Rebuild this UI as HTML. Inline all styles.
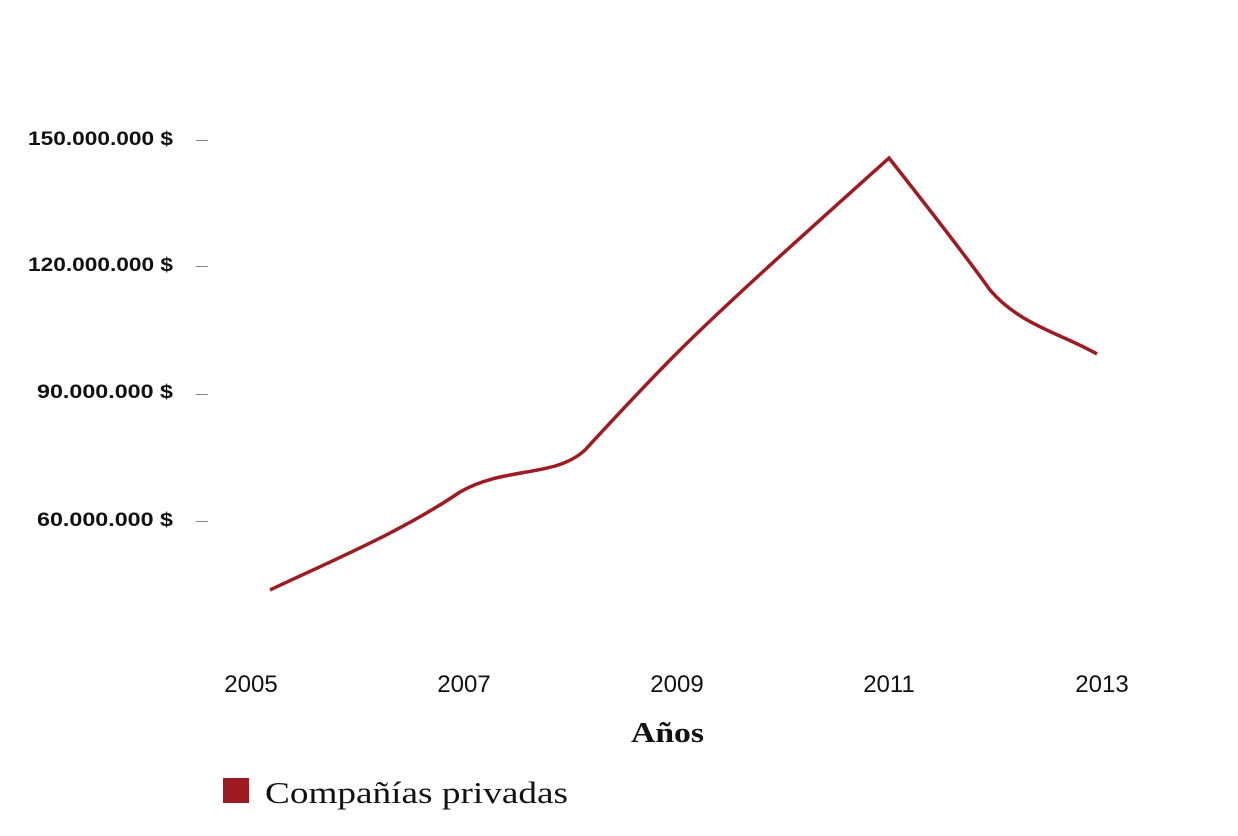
<!DOCTYPE html>
<html><head><meta charset="utf-8"><style>
html,body{margin:0;padding:0;background:#fff;}
</style></head><body>
<svg width="1238" height="831" xmlns="http://www.w3.org/2000/svg">
<g font-family="Liberation Sans, sans-serif" font-weight="bold" font-size="19" fill="#111">
<text x="28" y="145" textLength="145" lengthAdjust="spacingAndGlyphs">150.000.000 $</text>
<text x="28" y="271" textLength="145" lengthAdjust="spacingAndGlyphs">120.000.000 $</text>
<text x="37" y="398" textLength="136" lengthAdjust="spacingAndGlyphs">90.000.000 $</text>
<text x="37" y="526" textLength="136" lengthAdjust="spacingAndGlyphs">60.000.000 $</text>
</g>
<g stroke="#888" stroke-width="1">
<line x1="196" y1="140.5" x2="208" y2="140.5"/>
<line x1="196" y1="266.5" x2="208" y2="266.5"/>
<line x1="196" y1="394.5" x2="208" y2="394.5"/>
<line x1="196" y1="521.5" x2="208" y2="521.5"/>
</g>
<g font-family="Liberation Sans, sans-serif" font-size="24" text-anchor="middle" fill="#111">
<text x="251" y="692">2005</text>
<text x="464" y="692">2007</text>
<text x="677" y="692">2009</text>
<text x="889" y="692">2011</text>
<text x="1102" y="692">2013</text>
</g>
<text x="631" y="742" font-family="Liberation Serif, serif" font-weight="bold" font-size="29" textLength="73" lengthAdjust="spacingAndGlyphs" fill="#111">Años</text>
<path d="M270,590 C320,566 400,533 460,492 C505,466 555,478 585,450 C620,412 650,380 677,353 C730,300 820,220 889,158 C930,210 970,262 990,290 C1020,325 1060,333 1097,354" fill="none" stroke="#9e1b22" stroke-width="3.5"/>
<rect x="223" y="778" width="26" height="25" fill="#9e1b22"/>
<text x="265" y="803" font-family="Liberation Serif, serif" font-size="31" textLength="303" lengthAdjust="spacingAndGlyphs" fill="#111">Compañías privadas</text>
</svg>
</body></html>
